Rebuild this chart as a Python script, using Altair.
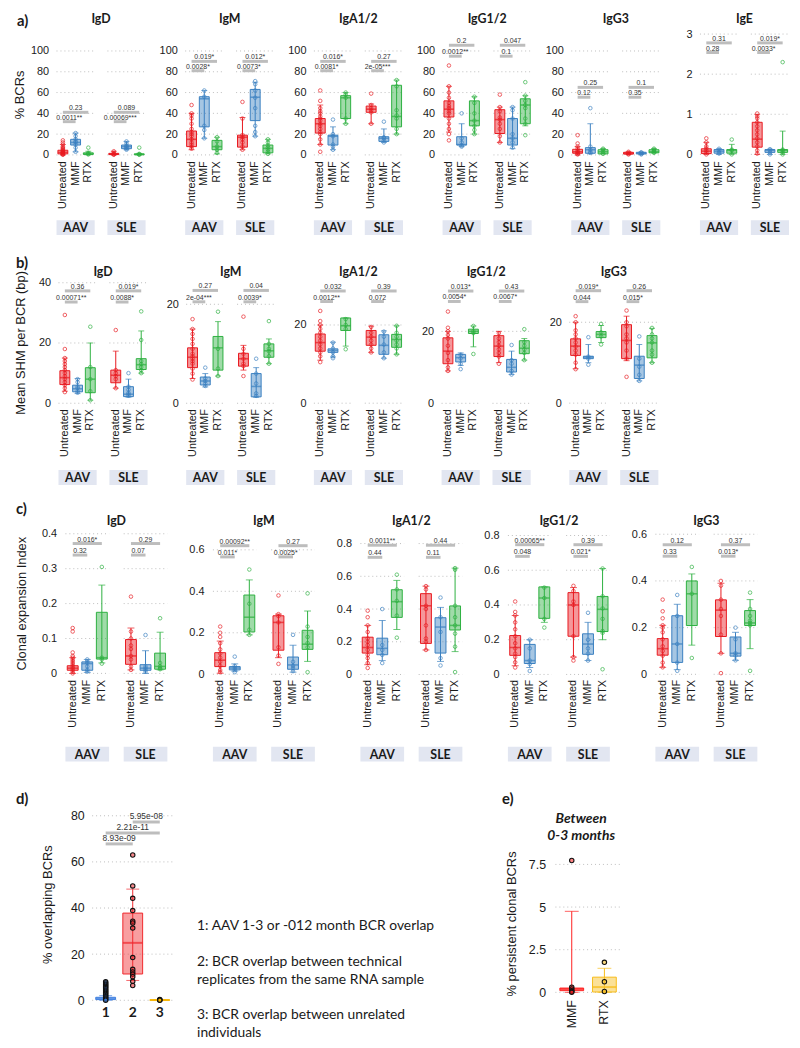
import altair as alt
import pandas as pd

TREATMENTS = ["Untreated", "MMF", "RTX"]
GROUPS = ["AAV", "SLE"]
TREAT_COLORS = ["#E8191F", "#3A80C0", "#2DB040"]

# Box stats: [lower whisker, Q1, median, Q3, upper whisker]; order AAV U/M/R then SLE U/M/R
# P labels: AAV U-MMF, AAV U-RTX, SLE U-MMF, SLE U-RTX ; PY: [lower bar, upper bar]

# ---------------- a) % BCRs ----------------
A_IGD_BOX = [[0, 1, 2.5, 4.5, 10], [3, 9.5, 12, 15, 21], [0, 0.5, 1, 2, 3.5],
             [0, 0.3, 0.8, 1.5, 3.5], [5, 6, 8, 9.5, 13], [0, 0.2, 0.5, 1, 1.5]]
A_IGD_PTS = [[14, 12, 10, 8, 7, 6, 5, 4, 3, 2.5, 2, 1.5, 1, 0.5, 0.2], [21, 18, 15, 13, 12, 10, 7, 3],
             [7, 2, 1, 0.5], [3.5, 2, 1, 0.5, 0.2], [13, 11, 9, 8, 7, 6, 5], [7, 1, 0.5, 0.2]]
A_IGD_P = ["0.0011**", "0.23", "0.00069***", "0.089"]
A_IGD_PY = [32, 41]

A_IGM_BOX = [[5, 8, 15, 23, 40], [16, 27, 54, 56, 62], [1, 5, 8, 14, 17],
             [5, 7.5, 17, 19, 36], [18, 33, 55.5, 63, 70], [1, 2, 6.3, 9.5, 15]]
A_IGM_PTS = [[48, 40, 38, 35, 30, 25, 22, 20, 18, 15, 12, 10, 8, 6], [62, 56, 28, 24, 16],
             [17, 13, 8, 5, 2], [51, 35, 19, 17, 15, 12, 8, 5], [71, 68, 62, 55, 45, 28, 22, 18],
             [15, 12, 9, 7, 5, 3, 1]]
A_IGM_P = ["0.0028*", "0.019*", "0.0073*", "0.012*"]
A_IGM_PY = [81, 90]

A_IGA_BOX = [[10, 21, 30, 35, 48], [5, 9.5, 18, 19, 27], [30, 35, 55, 57, 60],
             [30, 41, 44, 47, 49], [12, 13, 16, 17.5, 25], [20, 27, 37, 67, 72]]
A_IGA_PTS = [[62, 52, 45, 42, 40, 37, 35, 33, 30, 28, 25, 22, 20, 15, 10, 3], [34, 20, 18, 10, 8, 5],
             [60, 58, 55, 35, 30], [59, 48, 45, 43, 41, 30], [32, 17, 16, 14, 12],
             [72, 66, 43, 38, 35, 25, 20]]
A_IGA_P = ["0.0081*", "0.016*", "2e-05***", "0.27"]
A_IGA_PY = [81, 90]

A_IGG12_BOX = [[22, 36.5, 44, 52, 66], [8, 9.5, 10, 17.5, 30], [20, 28, 33, 52, 56],
               [12, 20.6, 34, 43.5, 46], [6, 9.5, 16, 35, 46], [28, 30, 48, 54, 57]]
A_IGG12_PTS = [[86, 66, 60, 55, 50, 47, 45, 42, 40, 35, 30, 25, 20, 14], [40, 16, 12, 9, 8],
               [56, 50, 40, 33, 28, 24, 20], [58, 46, 42, 36, 34, 30, 25, 18, 12],
               [46, 43, 35, 20, 16, 12, 7], [70, 57, 52, 48, 45, 35, 30, 19]]
A_IGG12_P = ["0.0012**", "0.2", "0.1", "0.047"]
A_IGG12_PY = [95, 105.5]

A_IGG3_BOX = [[0, 1.6, 3, 5.4, 8], [1, 1.6, 5, 7, 30], [1, 1, 3, 5, 6],
              [0.5, 0.8, 1.5, 2.5, 3], [0.5, 1, 1.5, 2.5, 2.8], [2, 2, 3, 5, 6]]
A_IGG3_PTS = [[19, 11, 8, 6, 4, 3, 2, 1, 0.5], [45, 8, 5, 3, 2], [6, 5, 3, 1],
              [3, 2, 1, 0.5], [2.5, 2, 1, 0.5], [6, 5, 4, 3, 2]]
A_IGG3_P = ["0.12", "0.25", "0.35", "0.1"]
A_IGG3_PY = [55.5, 65]

A_IGE_BOX = [[0, 0.02, 0.08, 0.14, 0.3], [0, 0.03, 0.08, 0.12, 0.14], [0, 0.03, 0.1, 0.12, 0.25],
             [0, 0.18, 0.38, 0.8, 1.0], [0, 0.05, 0.1, 0.12, 0.13], [0, 0.05, 0.1, 0.12, 0.58]]
A_IGE_PTS = [[0.4, 0.3, 0.2, 0.15, 0.1, 0.05, 0], [0.14, 0.1, 0.05, 0.02], [0.37, 0.12, 0.1, 0],
             [1.02, 0.95, 0.9, 0.8, 0.7, 0.6, 0.5, 0.4, 0.3, 0.2, 0.1, 0.02], [0.13, 0.1, 0.05, 0],
             [2.3, 0.12, 0.1, 0.05, 0]]
A_IGE_P = ["0.28", "0.31", "0.0033*", "0.019*"]
A_IGE_PY = [2.54, 2.78]

# ---------------- b) Mean SHM per BCR ----------------
B_IGD_BOX = [[4, 6.2, 8.5, 10.8, 15], [3.2, 3.8, 4.8, 6, 8.2], [1, 3.5, 8, 11.8, 20],
             [5, 6.8, 9.3, 11, 17.3], [2, 2.2, 3, 5.5, 8], [10, 11.2, 12.8, 14.8, 24]]
B_IGD_PTS = [[29.3, 18, 15, 14, 13, 12, 11, 10, 9, 8, 7, 6, 5, 3.7], [8, 7, 5.5, 5, 4, 3.5],
             [25.4, 12, 8, 4, 1], [24.3, 11, 10, 9, 8, 5], [10, 5.5, 4.5, 3.5, 3, 2.5],
             [30.5, 21, 14, 13, 12, 11, 10]]
B_IGD_P = ["0.00071**", "0.36", "0.0088*", "0.019*"]
B_IGD_PY = [33.6, 37.3]

B_IGM_BOX = [[5, 7.2, 9.3, 11.2, 15], [3.3, 3.7, 4.5, 5.3, 6], [5.5, 6.7, 11.2, 13.5, 16.5],
             [6.7, 7.5, 9, 10.1, 11.7], [1.2, 1.3, 3.4, 6, 7.2], [8, 9.3, 10.6, 12, 13]]
B_IGM_PTS = [[17, 15, 14, 13, 12, 11, 10, 9.5, 9, 8.5, 8, 7, 6, 4.8], [7.2, 5, 4.5, 4, 3.5],
             [18.5, 11, 7, 5.5], [17.5, 11, 10, 9, 8, 7.5, 5.5], [9, 6, 4, 2, 1.5],
             [16.6, 12, 11, 10.5, 9.5, 8]]
B_IGM_P = ["2e-04***", "0.27", "0.0039*", "0.04"]
B_IGM_PY = [20.5, 22.8]

B_IGA_BOX = [[11, 13.3, 15.5, 17.7, 20], [11.8, 13, 13.5, 13.9, 15.6], [14.6, 18.6, 19.8, 21.8, 21.8],
             [13, 14.8, 16.9, 18.6, 19.7], [11.5, 12.5, 14.8, 17.5, 18.5], [12.5, 14.3, 16.3, 17.6, 19.8]]
B_IGA_PTS = [[23.6, 21, 20, 19, 18, 17, 16, 15, 14, 13, 12, 10.5], [15.5, 14, 13, 12, 11.5],
             [21.5, 20, 19, 13.8], [19.5, 18, 17, 16, 15, 14, 13], [18.3, 17, 15, 13, 11.5],
             [19.8, 18, 17, 16, 15, 14, 12.5]]
B_IGA_P = ["0.0012**", "0.032", "0.072", "0.39"]
B_IGA_PY = [26, 28.7]

B_IGG12_BOX = [[9, 11, 14.5, 18.2, 20], [10.5, 11.5, 12.7, 13.6, 14], [15.7, 19.4, 20, 20.6, 21.5],
               [11.3, 13, 15.9, 18.8, 20], [8, 8.7, 10, 12.2, 14.5], [12, 13.8, 15.3, 17.4, 18]]
B_IGG12_PTS = [[25.5, 21, 20, 19, 18, 16, 14, 12, 10, 9], [13.5, 12.5, 11, 9.5], [21.5, 20, 19.5, 13.7],
               [19.5, 18, 17, 16, 15, 14, 13, 11], [16.2, 12, 11, 9, 8], [20.6, 17, 16, 15, 14, 12]]
B_IGG12_P = ["0.0054*", "0.013*", "0.0067*", "0.43"]
B_IGG12_PY = [28.3, 31.2]

B_IGG3_BOX = [[8.5, 11.8, 14.1, 15.9, 20], [10, 11, 11.4, 11.6, 14.5], [15, 16.2, 17, 17.7, 19.2],
              [10.5, 11, 15.5, 19.4, 21.5], [5.5, 6.1, 9.4, 11.6, 14.5], [10, 11.2, 14.9, 16.7, 18.5]]
B_IGG3_PTS = [[21.5, 20, 18, 17, 16, 15, 14, 13, 12, 10, 8.4], [16.3, 11.5, 11, 9.5], [19.6, 17.5, 16.5, 14.5],
              [22.9, 20, 19, 17, 16, 15, 13, 11, 6.5], [16.5, 11, 9, 7, 5.5], [18.6, 17, 16, 15, 13, 12, 10]]
B_IGG3_P = ["0.044", "0.019*", "0.015*", "0.26"]
B_IGG3_PY = [25.1, 27.8]

# ---------------- c) Clonal expansion index ----------------
C_IGD_BOX = [[0, 0.009, 0.015, 0.022, 0.045], [0.003, 0.009, 0.028, 0.033, 0.04], [0.03, 0.041, 0.045, 0.175, 0.253],
             [0.01, 0.026, 0.05, 0.097, 0.13], [0, 0.009, 0.015, 0.025, 0.065], [0.01, 0.012, 0.02, 0.058, 0.118]]
C_IGD_PTS = [[0.13, 0.12, 0.06, 0.05, 0.045, 0.04, 0.035, 0.03, 0.025, 0.02, 0.015, 0.01, 0.005, 0],
             [0.04, 0.035, 0.03, 0.02, 0.01, 0.005], [0.305, 0.045, 0.04, 0.028],
             [0.22, 0.12, 0.1, 0.08, 0.07, 0.05, 0.04, 0.02, 0.01], [0.11, 0.02, 0.015, 0.01, 0.005],
             [0.158, 0.03, 0.02, 0.015, 0.012]]
C_IGD_P = ["0.32", "0.016*", "0.07", "0.29"]
C_IGD_PY = [0.339, 0.372]

C_IGM_BOX = [[0.005, 0.037, 0.068, 0.104, 0.16], [0.015, 0.021, 0.03, 0.037, 0.05], [0.19, 0.204, 0.275, 0.382, 0.455],
             [0.08, 0.116, 0.25, 0.282, 0.29], [0.01, 0.024, 0.045, 0.083, 0.14], [0.062, 0.12, 0.145, 0.212, 0.305]]
C_IGM_PTS = [[0.23, 0.2, 0.18, 0.15, 0.12, 0.1, 0.08, 0.06, 0.04, 0.02, 0.01], [0.085, 0.04, 0.03, 0.02, 0.01],
             [0.505, 0.34, 0.215, 0.19], [0.38, 0.29, 0.28, 0.25, 0.13, 0.09, 0.05],
             [0.19, 0.06, 0.04, 0.03, 0.015], [0.39, 0.23, 0.18, 0.15, 0.13, 0.01]]
C_IGM_P = ["0.011*", "0.00092**", "0.0025*", "0.27"]
C_IGM_PY = [0.566, 0.62]

C_IGA_BOX = [[0.06, 0.131, 0.165, 0.228, 0.3], [0.085, 0.121, 0.16, 0.222, 0.33], [0.275, 0.349, 0.445, 0.518, 0.575],
             [0.15, 0.19, 0.42, 0.494, 0.54], [0.08, 0.131, 0.29, 0.347, 0.41], [0.14, 0.272, 0.3, 0.419, 0.65]]
C_IGA_PTS = [[0.39, 0.35, 0.3, 0.26, 0.22, 0.2, 0.18, 0.15, 0.12, 0.1, 0.07, 0.04], [0.4, 0.18, 0.15, 0.12, 0.07],
             [0.61, 0.52, 0.45, 0.36, 0.225], [0.54, 0.52, 0.42, 0.4, 0.3, 0.22, 0.2, 0.15],
             [0.47, 0.35, 0.26, 0.1, 0.055], [0.65, 0.64, 0.42, 0.35, 0.3, 0.25, 0.17, 0.015]]
C_IGA_P = ["0.44", "0.0011**", "0.11", "0.44"]
C_IGA_PY = [0.716, 0.79]

C_IGG12_BOX = [[0.05, 0.11, 0.155, 0.224, 0.34], [0.04, 0.063, 0.08, 0.173, 0.2], [0.3, 0.323, 0.44, 0.504, 0.504],
               [0.1, 0.22, 0.4, 0.471, 0.5], [0.08, 0.116, 0.175, 0.234, 0.3], [0.2, 0.247, 0.375, 0.449, 0.61]]
C_IGG12_PTS = [[0.42, 0.36, 0.34, 0.3, 0.26, 0.22, 0.18, 0.15, 0.12, 0.1, 0.07, 0.04], [0.2, 0.15, 0.08, 0.06, 0.02],
               [0.5, 0.44, 0.32, 0.27], [0.51, 0.48, 0.42, 0.4, 0.22, 0.1, 0.08],
               [0.355, 0.2, 0.15, 0.12, 0.08], [0.61, 0.45, 0.38, 0.32, 0.25, 0.24, 0.03]]
C_IGG12_P = ["0.048", "0.00065**", "0.021*", "0.39"]
C_IGG12_PY = [0.68, 0.747]

C_IGG3_BOX = [[0.03, 0.082, 0.11, 0.153, 0.21], [0.02, 0.051, 0.13, 0.251, 0.3], [0.125, 0.209, 0.345, 0.4, 0.43],
              [0.09, 0.162, 0.275, 0.319, 0.39], [0.06, 0.078, 0.09, 0.16, 0.18], [0.11, 0.209, 0.22, 0.273, 0.32]]
C_IGG3_PTS = [[0.32, 0.27, 0.24, 0.21, 0.2, 0.18, 0.15, 0.12, 0.1, 0.08, 0.05, 0.03], [0.34, 0.25, 0.13, 0.05, 0.015],
              [0.46, 0.345, 0.07], [0.4, 0.38, 0.32, 0.28, 0.25, 0.17, 0.09, 0.005],
              [0.2, 0.15, 0.09, 0.08, 0.06], [0.35, 0.28, 0.25, 0.23, 0.22, 0.21, 0.015]]
C_IGG3_P = ["0.33", "0.12", "0.013*", "0.37"]
C_IGG3_PY = [0.506, 0.555]

# ---------------- d) overlapping BCRs ----------------
D_CATS = ["1", "2", "3"]
D_COLORS = ["#3F7FE0", "#F0282D", "#F6B400"]
D_BOX = [[0, 0.3, 0.8, 1.3, 2], [8.6, 11.4, 24.9, 37.8, 48.2], [0, 0, 0.1, 0.2, 0.3]]
D_PTS = [[8, 7.5, 7, 6.5, 6, 5.5, 5, 4.5, 4, 3.5, 3, 2.5, 2, 1.5, 1, 0.5, 0],
         [63, 49.6, 44.2, 38.9, 34.3, 33.5, 31.3, 18.5, 13.4, 12.3, 11.3, 10.2, 8.2, 6.4],
         [0.3, 0.1, 0]]
D_SIG_PAIRS = [("1", "2"), ("1", "3"), ("2", "3")]
D_SIG_LABELS = ["8.93e-09", "2.21e-11", "5.95e-08"]
D_SIG_Y = [67.8, 72.5, 77.3]
D_NOTES = [["1: AAV 1-3 or -012 month BCR overlap"],
           ["2: BCR overlap between technical", "replicates from the same RNA sample"],
           ["3: BCR overlap between unrelated", "individuals"]]

# ---------------- e) persistent clonal BCRs ----------------
E_CATS = ["MMF", "RTX"]
E_COLORS = ["#FF1F1F", "#F7BC1A"]
E_BOX = [[0, 0.1, 0.2, 0.25, 4.75], [0, 0.02, 0.31, 0.89, 1.41]]
E_PTS = [[7.73, 0.3, 0.2, 0.1, 0.05, 0], [1.76, 0.62, 0.05]]
E_TITLE = ["Between", "0-3 months"]

LFONT = "Liberation Sans"
TFONT = "Lato"
INK = "#1A1A1A"
GRID_COLOR = "#BDBDBD"
GAP = " "
PANEL_CATS = [f"AAV|{t}" for t in TREATMENTS] + [GAP] + [f"SLE|{t}" for t in TREATMENTS]


def sig_frame(cats, pairs, labels, ys):
    rows = []
    for (a, b), lab, y in zip(pairs, labels, ys):
        ia, ib = cats.index(a), cats.index(b)
        adj = (ib - ia) == 1
        rows.append(dict(a=a, b=b, mid=a if adj else cats[(ia + ib) // 2], adj=adj, label=lab, py=y))
    return pd.DataFrame(rows)


def stat_frames(cats, cols, box, pts):
    rows, prow = [], []
    for c, k, st, pp in zip(cats, cols, box, pts):
        lo, q1, med, q3, hi = st
        rows.append(dict(cat=c, col=k, lo=lo, q1=q1, med=med, q3=q3, hi=hi))
        prow += [dict(cat=c, col=k, v=v) for v in pp]
    return pd.DataFrame(rows), pd.DataFrame(prow)


def text_layers(texts, xs, ys, size=15, align="left", style="normal", weight="bold", font=TFONT):
    df = pd.DataFrame({"t": texts})
    return [alt.Chart(df.iloc[[k]]).mark_text(
        align=align, baseline="middle", font=font, fontSize=size, fontWeight=weight,
        fontStyle=style, color=INK).encode(x=alt.value(xs[k]), y=alt.value(ys[k]), text="t:N")
        for k in range(len(texts))]


def box_view(bdf, pdf, sdf, xcats, ccats, colors, ydom, yvals, spans, xax, yax, w, h, box_w, cap_w,
             points="open", sig_fs=7, extra=(), med_th=1.6, yrange=None):
    step = w / len(xcats)
    xs = alt.Scale(domain=xcats, paddingInner=0, paddingOuter=0)
    ykw = dict(domain=ydom, nice=False, zero=False)
    if yrange is not None:
        ykw["range"] = yrange
    ys = alt.Scale(**ykw)
    cs = alt.Scale(domain=ccats, range=colors)

    def X(f="cat", **kw):
        return alt.X(f"{f}:N", scale=xs, axis=xax, **kw)

    def Y(f):
        return alt.Y(f"{f}:Q", scale=ys, axis=yax)

    col = alt.Color("col:N", scale=cs, legend=None)
    grid = pd.DataFrame([dict(a=a, b=b, gy=v) for (a, b) in spans for v in yvals])
    layers = [alt.Chart(grid).mark_rule(color=GRID_COLOR, strokeDash=[1, 3], strokeWidth=1,
                                        xOffset=-step / 2, x2Offset=step / 2).encode(
        x=X("a"), x2="b:N", y=Y("gy"))]
    layers += list(extra)
    b = alt.Chart(bdf)
    layers += [
        b.mark_rule(strokeWidth=1).encode(x=X(), y=Y("lo"), y2="hi:Q", color=col),
        b.mark_tick(size=cap_w, thickness=1).encode(x=X(), y=Y("lo"), color=col),
        b.mark_tick(size=cap_w, thickness=1).encode(x=X(), y=Y("hi"), color=col),
        b.mark_bar(size=box_w, fillOpacity=0.45, strokeWidth=1).encode(
            x=X(), y=Y("q1"), y2="q3:Q",
            fill=alt.Fill("col:N", scale=cs, legend=None),
            stroke=alt.Stroke("col:N", scale=cs, legend=None)),
        b.mark_tick(size=box_w, thickness=med_th).encode(x=X(), y=Y("med"), color=col),
    ]
    p = alt.Chart(pdf)
    if points == "open":
        layers.append(p.mark_point(filled=False, size=13, strokeWidth=1).encode(x=X(), y=Y("v"), color=col))
    else:
        layers.append(p.mark_point(filled=True, size=20, stroke="#111111", strokeWidth=1.1, fillOpacity=0.55).encode(
            x=X(), y=Y("v"), fill=alt.Fill("col:N", scale=cs, legend=None)))
    if sdf is not None:
        s = alt.Chart(sdf)
        tkw = dict(fontSize=sig_fs, font=LFONT, color="#333333", baseline="bottom", dy=-1)
        layers += [
            s.mark_rule(strokeWidth=3, color=GRID_COLOR).encode(x=X("a"), x2="b:N", y=Y("py")),
            s.transform_filter("datum.adj").mark_text(**tkw).encode(
                x=X("mid", bandPosition=1), y=Y("py"), text="label:N"),
            s.transform_filter("!datum.adj").mark_text(**tkw).encode(
                x=X("mid", bandPosition=0.5), y=Y("py"), text="label:N"),
        ]
    return alt.layer(*layers).properties(width=w, height=h)


def y_axis(values, title, tpad, lpad, min_ext, lsize=11, tsize=13, title_y=None):
    kw = dict(values=values, format=".1~f", domain=False, ticks=False, grid=False, labelFont=LFONT,
              labelOverlap=False, labelFontSize=lsize, labelColor=INK, labelPadding=lpad, minExtent=min_ext)
    if title:
        kw.update(title=title, titleFont=LFONT, titleFontSize=tsize, titleFontWeight="normal",
                  titleColor=INK, titlePadding=tpad)
        if title_y is not None:
            kw.update(titleY=title_y)
    else:
        kw.update(title=None)
    return alt.Axis(**kw)


def panel_chart(spec, cfg, first):
    iso, box, pts, plab, py, ydom, yvals = spec
    w, h = cfg["w"], cfg["h"]
    cats = [c for c in PANEL_CATS if c != GAP]
    treats = [c.split("|")[1] for c in cats]
    bdf, pdf = stat_frames(cats, treats, box, pts)
    pairs, labels = [], []
    for gi, g in enumerate(GROUPS):
        pairs += [(f"{g}|Untreated", f"{g}|MMF"), (f"{g}|Untreated", f"{g}|RTX")]
        labels += plab[gi * 2:gi * 2 + 2]
    sdf = sig_frame(PANEL_CATS, pairs, labels, py * 2)
    yax = y_axis(yvals, cfg["ytitle"] if first else None, cfg["ytpad"], cfg["lpad"], cfg["minext"])
    xax = alt.Axis(title=None, labelAngle=270, domain=False, ticks=False, labelPadding=4,
                   labelFont=LFONT, labelFontSize=11, labelColor=INK, labelOverlap=False,
                   labelExpr="indexof(datum.label, '|') >= 0 ? split(datum.label, '|')[1] : ''")
    step = w / len(PANEL_CATS)
    extra = []
    gl = pd.DataFrame({"g": GROUPS})
    for gi, g in enumerate(GROUPS):
        extra.append(alt.Chart(gl.iloc[[gi]]).mark_rect(color="#E2E6F1").encode(
            x=alt.value(gi * 4 * step), x2=alt.value((gi * 4 + 3) * step),
            y=alt.value(h + cfg["bg_off"]), y2=alt.value(h + cfg["bg_off"] + 15)))
    extra += text_layers(GROUPS, [1.5 * step, 5.5 * step], [h + cfg["bg_off"] + 8] * 2, size=12.5, align="center")
    extra += text_layers([iso], [w / 2], [cfg["ty"]], size=12.5, align="center")
    if first:
        extra += text_layers([cfg["letter"]], [cfg["lx"]], [cfg["ly"]])
    spans = [("AAV|Untreated", "AAV|RTX"), ("SLE|Untreated", "SLE|RTX")]
    return box_view(bdf, pdf, sdf, PANEL_CATS, TREATMENTS, TREAT_COLORS, ydom, yvals, spans, xax, yax,
                    w, h, cfg["box_w"], cfg["cap_w"], extra=extra)


def spacer(w, h):
    return alt.Chart(pd.DataFrame({"t": [0]})).mark_point(opacity=0).encode(
        x=alt.value(0), y=alt.value(0)).properties(width=w, height=h)


def make_row(specs, cfg):
    panels = [panel_chart(s, cfg, i == 0) for i, s in enumerate(specs)]
    return alt.hconcat(spacer(cfg["lead"], cfg["sp_h"]), alt.hconcat(*panels, spacing=cfg["gap"]), spacing=0)


A_TICKS = [0, 20, 40, 60, 80, 100]
ROW_A = [("IgD", A_IGD_BOX, A_IGD_PTS, A_IGD_P, A_IGD_PY, [-1.8, 118.2], A_TICKS),
         ("IgM", A_IGM_BOX, A_IGM_PTS, A_IGM_P, A_IGM_PY, [-1.8, 118.2], A_TICKS),
         ("IgA1/2", A_IGA_BOX, A_IGA_PTS, A_IGA_P, A_IGA_PY, [-1.8, 118.2], A_TICKS),
         ("IgG1/2", A_IGG12_BOX, A_IGG12_PTS, A_IGG12_P, A_IGG12_PY, [-1.8, 118.2], A_TICKS),
         ("IgG3", A_IGG3_BOX, A_IGG3_PTS, A_IGG3_P, A_IGG3_PY, [-1.8, 118.2], A_TICKS),
         ("IgE", A_IGE_BOX, A_IGE_PTS, A_IGE_P, A_IGE_PY, [-0.06, 3.05], [0, 1, 2, 3])]
ROW_B = [("IgD", B_IGD_BOX, B_IGD_PTS, B_IGD_P, B_IGD_PY, [-0.5, 40.9], [0, 20, 40]),
         ("IgM", B_IGM_BOX, B_IGM_PTS, B_IGM_P, B_IGM_PY, [-0.3, 24.9], [0, 20]),
         ("IgA1/2", B_IGA_BOX, B_IGA_PTS, B_IGA_P, B_IGA_PY, [-0.4, 31.5], [0, 20]),
         ("IgG1/2", B_IGG12_BOX, B_IGG12_PTS, B_IGG12_P, B_IGG12_PY, [-0.4, 34.26], [0, 20]),
         ("IgG3", B_IGG3_BOX, B_IGG3_PTS, B_IGG3_P, B_IGG3_PY, [-0.4, 30.44], [0, 20])]
ROW_C = [("IgD", C_IGD_BOX, C_IGD_PTS, C_IGD_P, C_IGD_PY, [-0.006, 0.408], [0, 0.1, 0.2, 0.3, 0.4]),
         ("IgM", C_IGM_BOX, C_IGM_PTS, C_IGM_P, C_IGM_PY, [-0.006, 0.691], [0, 0.2, 0.4, 0.6]),
         ("IgA1/2", C_IGA_BOX, C_IGA_PTS, C_IGA_P, C_IGA_PY, [-0.006, 0.877], [0, 0.2, 0.4, 0.6, 0.8]),
         ("IgG1/2", C_IGG12_BOX, C_IGG12_PTS, C_IGG12_P, C_IGG12_PY, [-0.006, 0.826], [0, 0.2, 0.4, 0.6, 0.8]),
         ("IgG3", C_IGG3_BOX, C_IGG3_PTS, C_IGG3_P, C_IGG3_PY, [-0.005, 0.614], [0, 0.2, 0.4, 0.6])]

CFG_A = dict(w=90, h=126, bg_off=64, box_w=10, cap_w=6, ytitle="% BCRs", ytpad=3, lpad=8, minext=27,
             ty=-13, letter="a)", lx=-40, ly=-11, lead=1, gap=12, sp_h=209)
CFG_B = dict(w=90, h=126, bg_off=66, box_w=10, cap_w=6, ytitle="Mean SHM per BCR (bp)", ytpad=10, lpad=8,
             minext=21, ty=-8, letter="b)", lx=-43, ly=-17, lead=3, gap=17, sp_h=207)
CFG_C = dict(w=103, h=146, bg_off=72, box_w=11, cap_w=7, ytitle="Clonal expansion Index", ytpad=12, lpad=9,
             minext=25, ty=-10, letter="c)", lx=-50, ly=-22, lead=4, gap=20, sp_h=246)

row_a = make_row(ROW_A, CFG_A)
row_b = make_row(ROW_B, CFG_B)
row_c = make_row(ROW_C, CFG_C)

# ---- d ----
d_bdf, d_pdf = stat_frames(D_CATS, D_CATS, D_BOX, D_PTS)
d_sdf = sig_frame(D_CATS, D_SIG_PAIRS, D_SIG_LABELS, D_SIG_Y)
d_xax = alt.Axis(title=None, labelAngle=0, domain=False, ticks=False, labelPadding=4, labelFont=TFONT,
                 labelFontSize=14, labelFontWeight="bold", labelColor=INK)
D_TICKS = [0, 20, 40, 60, 80]
d_yax = y_axis(D_TICKS, "% overlapping BCRs", 16, 8, 22, lsize=12.5, tsize=13)
D_W, D_H = 82, 197
d_chart = box_view(d_bdf, d_pdf, d_sdf, D_CATS, D_CATS, D_COLORS, [-0.6, 83.95], D_TICKS, [("1", "3")],
                   d_xax, d_yax, D_W, D_H, 20, 13, points="filled", sig_fs=8.5, med_th=2,
                   extra=text_layers(["d)"], [-77], [-8]))

# notes
note_rows = []
slot = 6
for para in D_NOTES:
    for line in para:
        note_rows.append(dict(slot=slot, line=line))
        slot += 1
    slot += 1
N_SLOTS = 13
NOTES_W = 285
notes = alt.Chart(pd.DataFrame(note_rows)).mark_text(align="left", baseline="middle", font=TFONT,
                                                    fontSize=14, color=INK, dy=4).encode(
    x=alt.value(0),
    y=alt.Y("slot:O", scale=alt.Scale(type="point", domain=list(range(N_SLOTS)), padding=0.5), axis=None),
    text="line:N").properties(width=NOTES_W, height=N_SLOTS * 18)

# ---- e ----
e_bdf, e_pdf = stat_frames(E_CATS, E_CATS, E_BOX, E_PTS)
E_W, E_H = 66, 190
E_TICKS = [0, 2.5, 5, 7.5]
e_xax = alt.Axis(title=None, labelAngle=270, domain=False, ticks=False, labelPadding=5, labelFont=LFONT,
                 labelFontSize=12.5, labelColor=INK)
e_yax = y_axis(E_TICKS, "% persistent clonal BCRs", 10, 10, 20, lsize=12.5, tsize=13, title_y=118)
e_extra = text_layers(E_TITLE, [26, 26], [13, 30], size=14, align="center", style="italic")
e_extra += text_layers(["e)"], [-54], [-8])
e_chart = box_view(e_bdf, e_pdf, None, E_CATS, E_CATS, E_COLORS, [-0.14, 8.1], E_TICKS, [("MMF", "RTX")],
                   e_xax, e_yax, E_W, E_H, 24, 14, points="filled", med_th=2, extra=e_extra,
                   yrange=[190, 48])

row_de = alt.hconcat(spacer(5, 1), alt.hconcat(d_chart, notes, e_chart, spacing=23).resolve_scale(
    color="independent", fill="independent", stroke="independent"), spacing=0).resolve_scale(
    color="independent", fill="independent", stroke="independent")

chart = alt.vconcat(row_a, row_b, row_c, row_de, spacing=17.5).resolve_scale(
    color="independent", fill="independent", stroke="independent").configure_view(stroke=None).properties(
    background="white", padding={"left": 0, "top": 0, "right": 2, "bottom": 2})

chart.save("out.html", embed_options={"renderer": "svg", "actions": False})
